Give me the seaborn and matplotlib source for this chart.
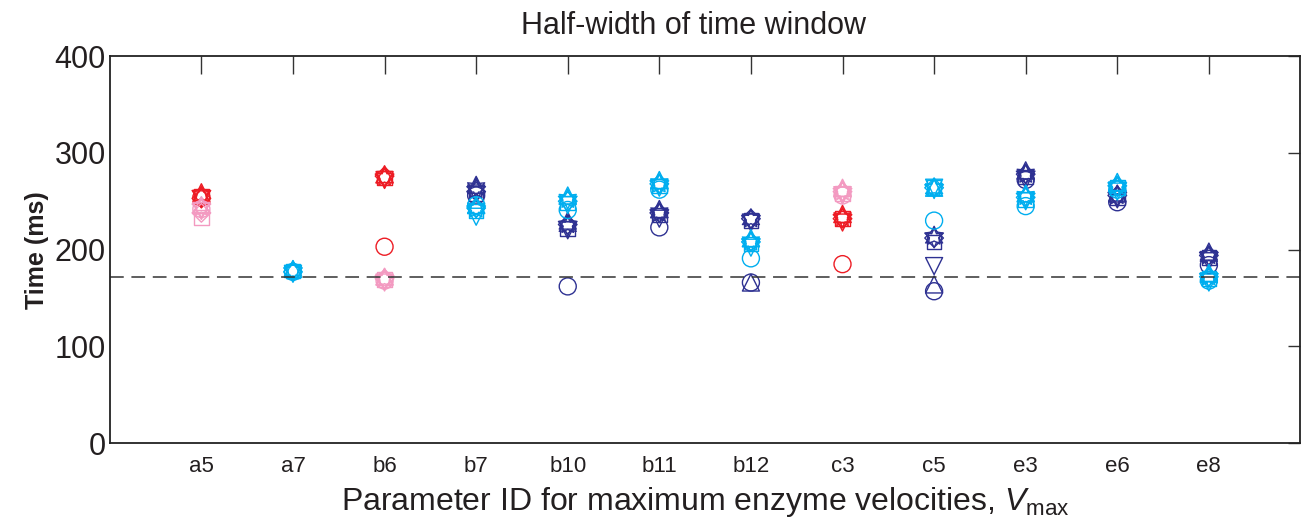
import matplotlib
matplotlib.use('Agg')
import matplotlib.pyplot as plt
import seaborn as sns
import pandas as pd
import numpy as np

# parameter IDs on the x axis
categories = ['a5', 'a7', 'b6', 'b7', 'b10', 'b11', 'b12', 'c3', 'c5', 'e3', 'e6', 'e8']

# marker order used for every group: circle, square, diamond, up, down, pentagram, hexagram
marker_names = ['o', 's', 'D', '^', 'v', 'pentagram', 'hexagram']

# half-width values (ms) per colour group, one value per marker
red_vals = {
    'a5': [254, 255, 253, 257, 252, 258, 255],
    'b6': [203, 274, 276, 278, 272, 275, 274],
    'c3': [185, 232, 232, 237, 228, 233, 233],
}
pink_vals = {
    'a5': [242, 233, 238, 246, 240, 244, 243],
    'b6': [168, 169, 170, 172, 166, 170, 169],
    'c3': [256, 258, 260, 264, 256, 260, 260],
}
navy_vals = {
    'b7': [256, 258, 260, 267, 258, 262, 264],
    'b10': [162, 222, 226, 230, 220, 226, 224],
    'b11': [223, 236, 238, 242, 232, 238, 238],
    'b12': [166, 230, 232, 166, 228, 232, 231],
    'c5': [157, 208, 212, 164, 183, 214, 212],
    'e3': [272, 275, 278, 282, 272, 278, 278],
    'e6': [249, 254, 256, 258, 252, 256, 255],
    'e8': [184, 192, 194, 198, 188, 194, 193],
}
cyan_vals = {
    'a7': [177, 178, 177, 180, 175, 178, 178],
    'b7': [246, 240, 243, 246, 234, 242, 243],
    'b10': [241, 248, 250, 256, 246, 252, 252],
    'b11': [262, 266, 268, 272, 264, 268, 268],
    'b12': [191, 206, 208, 212, 202, 208, 208],
    'c5': [230, 264, 264, 264, 264, 264, 263],
    'e3': [245, 252, 254, 258, 250, 255, 255],
    'e6': [262, 264, 266, 270, 260, 266, 265],
    'e8': [168, 170, 172, 176, 166, 172, 171],
}
threshold = 172

group_colors = {'red': '#ED1C24', 'pink': '#F39AC1', 'navy': '#2E3192', 'cyan': '#00AEEF'}
marker_shapes = {'o': 'o', 's': 's', 'D': 'D', '^': '^', 'v': 'v',
                 'pentagram': (5, 1, 0), 'hexagram': (6, 1, 0)}
marker_sizes = {'o': 150, 's': 110, 'D': 90, '^': 150, 'v': 150, 'pentagram': 200, 'hexagram': 200}

rows = []
for gname, vals in [('pink', pink_vals), ('red', red_vals), ('navy', navy_vals), ('cyan', cyan_vals)]:
    for cat, times in vals.items():
        for m, t in zip(marker_names, times):
            rows.append({'pos': categories.index(cat) + 1, 'time': t, 'group': gname, 'marker': m})
df = pd.DataFrame(rows)

sns.set_style('white')
plt.rcParams['font.family'] = ['Liberation Sans', 'DejaVu Sans']
plt.rcParams['mathtext.fontset'] = 'custom'
plt.rcParams['mathtext.rm'] = 'Liberation Sans'
plt.rcParams['mathtext.it'] = 'Liberation Sans:italic'
text_color = '#231F20'

fig, ax = plt.subplots(figsize=(13.07, 5.25), dpi=100)
fig.subplots_adjust(left=0.084, right=0.995, top=0.893, bottom=0.156)

for gname in ['navy', 'cyan', 'red', 'pink']:
    for m in marker_names:
        sub = df[(df['group'] == gname) & (df['marker'] == m)]
        if sub.empty:
            continue
        sns.scatterplot(data=sub, x='pos', y='time', marker=marker_shapes[m], s=marker_sizes[m],
                        facecolor='none', edgecolor=group_colors[gname], linewidth=1.0,
                        ax=ax, legend=False)

ax.axhline(threshold, color='#333333', linestyle=(0, (9, 5)), linewidth=1.1)

ax.set_xlim(0, 13)
ax.set_ylim(0, 400)
ax.set_xticks(range(1, len(categories) + 1))
ax.set_xticklabels(categories, fontsize=16, color=text_color)
ax.set_yticks([0, 100, 200, 300, 400])
ax.tick_params(axis='y', labelsize=22, labelcolor=text_color, direction='in', length=9, width=1,
               right=True, color='#333333', pad=3)
ax.tick_params(axis='x', direction='in', length=13, width=1, top=True, color='#333333', pad=9)
for sp in ax.spines.values():
    sp.set_visible(True)
    sp.set_color('#222222')
    sp.set_linewidth(1.3)

ax.set_title('Half-width of time window', fontsize=22, pad=16, x=0.49, color=text_color)
ax.set_ylabel('Time (ms)', fontsize=18, fontweight='bold', labelpad=4, color=text_color)
ax.set_xlabel('Parameter ID for maximum enzyme velocities, $\\mathit{V}_{\\mathrm{max}}$',
              fontsize=23, labelpad=6, color=text_color)
fig.savefig('out.png', dpi=100)
